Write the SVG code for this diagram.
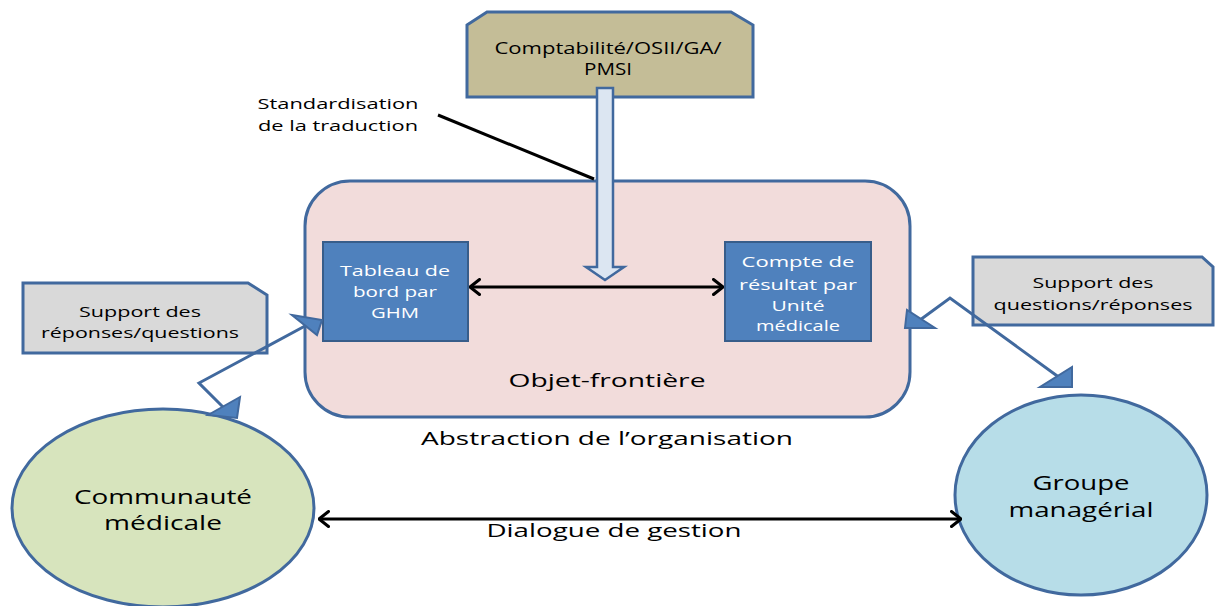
<svg xmlns="http://www.w3.org/2000/svg" width="1215" height="606" viewBox="0 0 1215 606">
<style>
text{font-family:"Open Sans","Liberation Sans",sans-serif;fill:#000;text-anchor:middle}
.w{fill:#fff}
.outline{stroke:#41699e;stroke-width:3}
.blk{stroke:#000;stroke-width:3;fill:none}
.tri{fill:#4f81bd;stroke:#41699e;stroke-width:2;stroke-linejoin:miter}
.conn{stroke:#41699e;stroke-width:3;fill:none}
</style>
<defs>
<marker id="chev" viewBox="0 0 12 18" refX="11" refY="9" markerWidth="12" markerHeight="18" markerUnits="userSpaceOnUse" orient="auto-start-reverse">
<path d="M1.5,1.5 L11,9 L1.5,16.5" stroke="#000" stroke-width="3" fill="none" stroke-linecap="round" stroke-linejoin="round"/>
</marker>
</defs>
<rect width="1215" height="606" fill="#fff"/>

<g id="objet-frontiere">
<rect class="outline" x="305" y="181" width="605" height="236" rx="45" fill="#f2dcdb"/>
<text x="607" y="387" font-size="18" textLength="197" lengthAdjust="spacingAndGlyphs">Objet-frontière</text>
</g>
<g id="abstraction-label">
<text x="607" y="445" font-size="18" textLength="372" lengthAdjust="spacingAndGlyphs">Abstraction de l’organisation</text>
</g>

<g id="standardisation">
<text x="338" y="109" font-size="14" textLength="161" lengthAdjust="spacingAndGlyphs">Standardisation</text>
<text x="338" y="131" font-size="14" textLength="160" lengthAdjust="spacingAndGlyphs">de la traduction</text>
</g>

<g id="comptabilite">
<path class="outline" d="M467,25 L487,12 L731,12 L753,25 L753,97 L467,97 Z" fill="#c4bd97"/>
<text x="608" y="54" font-size="16" textLength="227" lengthAdjust="spacingAndGlyphs">Comptabilité/OSII/GA/</text>
<text x="608" y="75" font-size="16" textLength="48" lengthAdjust="spacingAndGlyphs">PMSI</text>
</g>

<g id="tableau-de-bord">
<rect x="323" y="242" width="145" height="99" fill="#4f81bd" stroke="#385d8a" stroke-width="2"/>
<text class="w" x="395" y="276" font-size="15" textLength="110" lengthAdjust="spacingAndGlyphs">Tableau de</text>
<text class="w" x="395" y="297" font-size="15" textLength="84" lengthAdjust="spacingAndGlyphs">bord par</text>
<text class="w" x="395" y="318" font-size="15" textLength="48" lengthAdjust="spacingAndGlyphs">GHM</text>
</g>

<g id="compte-de-resultat">
<rect x="725" y="242" width="146" height="99" fill="#4f81bd" stroke="#385d8a" stroke-width="2"/>
<text class="w" x="798" y="267" font-size="15" textLength="113" lengthAdjust="spacingAndGlyphs">Compte de</text>
<text class="w" x="798" y="290" font-size="15" textLength="118" lengthAdjust="spacingAndGlyphs">résultat par</text>
<text class="w" x="798" y="311" font-size="15" textLength="53" lengthAdjust="spacingAndGlyphs">Unité</text>
<text class="w" x="798" y="331" font-size="15" textLength="84" lengthAdjust="spacingAndGlyphs">médicale</text>
</g>

<g id="support-gauche">
<path class="outline" d="M23,283 L248,283 L267,295 L267,353 L23,353 Z" fill="#d9d9d9"/>
<text x="140" y="317" font-size="15" textLength="122" lengthAdjust="spacingAndGlyphs">Support des</text>
<text x="140" y="338" font-size="15" textLength="198" lengthAdjust="spacingAndGlyphs">réponses/questions</text>
</g>

<g id="support-droite">
<path class="outline" d="M973,257 L1202,257 L1213,267 L1213,325 L973,325 Z" fill="#d9d9d9"/>
<text x="1093" y="288" font-size="15" textLength="121" lengthAdjust="spacingAndGlyphs">Support des</text>
<text x="1093" y="310" font-size="15" textLength="199" lengthAdjust="spacingAndGlyphs">questions/réponses</text>
</g>

<g id="communaute-medicale">
<ellipse class="outline" cx="163" cy="508" rx="151" ry="99" fill="#d7e4bd"/>
<text x="163" y="504" font-size="20" textLength="178" lengthAdjust="spacingAndGlyphs">Communauté</text>
<text x="163" y="530" font-size="20" textLength="118" lengthAdjust="spacingAndGlyphs">médicale</text>
</g>

<g id="groupe-managerial">
<ellipse class="outline" cx="1081" cy="495" rx="126" ry="100" fill="#b7dde8"/>
<text x="1081" y="490" font-size="20" textLength="97" lengthAdjust="spacingAndGlyphs">Groupe</text>
<text x="1081" y="517" font-size="20" textLength="145" lengthAdjust="spacingAndGlyphs">managérial</text>
</g>

<g id="connectors">
<line class="blk" x1="438" y1="115" x2="594" y2="179"/>
<path d="M597,88 L613,88 L613,267 L624,267 L605,280 L586,267 L597,267 Z" fill="#dce6f2" stroke="#41699e" stroke-width="2.5" stroke-linejoin="miter"/>
<line class="blk" x1="470" y1="287" x2="723" y2="287" marker-start="url(#chev)" marker-end="url(#chev)"/>
<line class="blk" x1="319" y1="519" x2="961" y2="519" marker-start="url(#chev)" marker-end="url(#chev)"/>
<text x="614" y="537" font-size="18" textLength="255" lengthAdjust="spacingAndGlyphs">Dialogue de gestion</text>
<polyline class="conn" points="305,326 199,383 223,407"/>
<polygon class="tri" points="292,315 322,320 317,335"/>
<polygon class="tri" points="208,415 240,397 237,418"/>
<polyline class="conn" points="920,320 950,298 1060,378"/>
<polygon class="tri" points="907,310 905,328 935,328"/>
<polygon class="tri" points="1040,387 1072,387 1072,367"/>
</g>
</svg>
